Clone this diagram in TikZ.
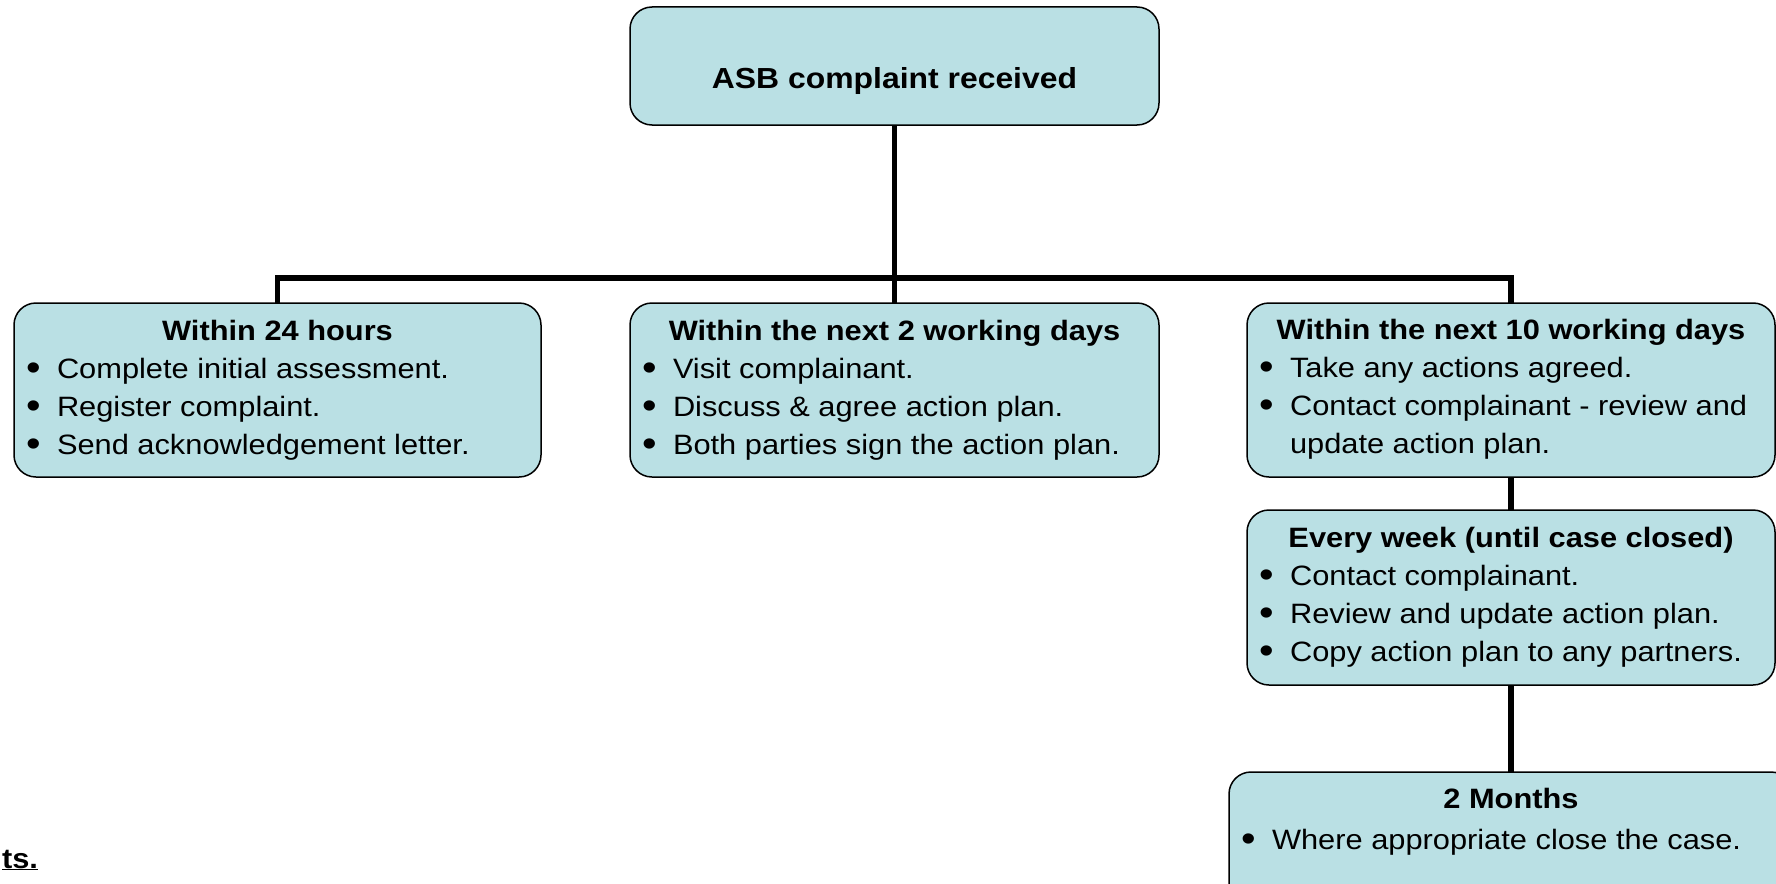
\documentclass[tikz,border=0pt]{standalone}
\usepackage{fontspec}
\setmainfont{Liberation Sans}[FakeStretch=1.1]
\definecolor{boxfill}{RGB}{186,224,228}
\newcommand{\bul}{\raisebox{-2.5pt}{\scalebox{1.35}{\textbullet}}}
\newcommand{\bl}[1]{\par\hspace*{12pt}\makebox[31pt][l]{\bul}#1}
\newcommand{\cont}[1]{\par\hspace*{43pt}#1}
\newcommand{\hd}[1]{{\centering\bfseries #1\par}\raggedright}
\begin{document}
\begin{tikzpicture}[x=1pt,y=-1pt,
  box/.style={draw=black, line width=1.5pt, fill=boxfill, rounded corners=22pt,
    inner sep=0pt, outer sep=0pt, anchor=north west},
  txt/.style={inner sep=0pt, outer sep=0pt, anchor=base west, font=\fontsize{28}{38}\selectfont},
  conn/.style={draw=black, line width=5.5pt, line join=miter}]
\path[use as bounding box, clip] (0,0) rectangle (1776,883);
\fill[white] (0,0) rectangle (1776,883);

% boxes
\node[box, minimum width=529pt, minimum height=118pt] (top) at (630,7) {};
\node[box, minimum width=527pt, minimum height=174pt] (b1) at (14,303) {};
\node[box, minimum width=529pt, minimum height=174pt] (b2) at (630,303) {};
\node[box, minimum width=528pt, minimum height=174pt] (b3) at (1247,303) {};
\node[box, minimum width=528pt, minimum height=175pt] (b4) at (1247,510) {};
\node[box, minimum width=564pt, minimum height=140pt] (b5) at (1229,772) {};

% connectors
\coordinate (bar) at (894.5,278);
\draw[conn] (top.south) -- (bar) -- (b2.north);
\draw[conn] (b1.north) |- (bar) -| (b3.north);
\draw[conn] (b3.south) -- (b4.north);
\draw[conn] (b4.south) -- (b5.north);

% texts
\node[txt, anchor=base, font=\fontsize{29}{34}\selectfont\bfseries] (toptxt) at (894.5,88) {ASB complaint received};

\node[txt] (t1) at (14,340) {\parbox[t]{527pt}{\hd{Within 24 hours}%
  \bl{Complete initial assessment.}%
  \bl{Register complaint.}%
  \bl{Send acknowledgement letter.}}};

\node[txt] (t2) at (630,340) {\parbox[t]{529pt}{\hd{Within the next 2 working days}%
  \bl{Visit complainant.}%
  \bl{Discuss \& agree action plan.}%
  \bl{Both parties sign the action plan.}}};

\node[txt] (t3) at (1247,339) {\parbox[t]{528pt}{\hd{Within the next 10 working days}%
  \bl{Take any actions agreed.}%
  \bl{Contact complainant - review and}%
  \cont{update action plan.}}};

\node[txt] (t4) at (1247,547) {\parbox[t]{528pt}{\hd{Every week (until case closed)}%
  \bl{Contact complainant.}%
  \bl{Review and update action plan.}%
  \bl{Copy action plan to any partners.}}};

\node[txt, font=\fontsize{28}{41}\selectfont] (t5) at (1229,808) {\parbox[t]{564pt}{\hd{2 Months}%
  \bl{Where appropriate close the case.}}};

\node[txt, anchor=base east, font=\fontsize{28}{34}\selectfont\bfseries] (frag) at (38,868) {\underline{ts.}};
\end{tikzpicture}
\end{document}
